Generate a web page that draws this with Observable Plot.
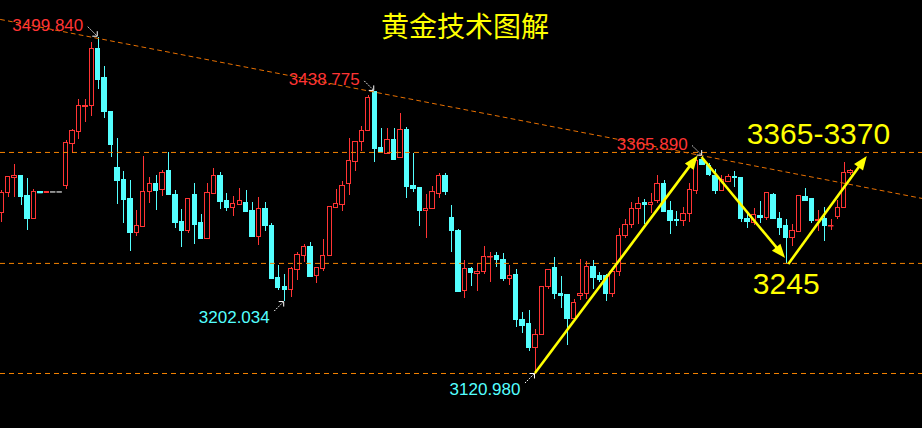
<!DOCTYPE html>
<html><head><meta charset="utf-8">
<script src="https://cdn.jsdelivr.net/npm/d3@7"></script>
<script src="https://cdn.jsdelivr.net/npm/@observablehq/plot@0.6"></script>
<style>
html,body{margin:0;padding:0;background:#000;overflow:hidden;}
#chart svg{display:block;}
</style></head><body><div id="chart"></div>
<script>
// ---- data (gold price, candles in time order) ----
const opens = [
3301.6,3324,3341,3344,3320.4,3294.8,3325.5,3324.8,3325.5,3325.5,
3332,3380,3393,3421,3422,3487,3454,3416,3353,3338.4,
3317,3279.5,3285.8,3325,3335,3327.5,3348.6,3322.6,3291.2,3281.3,
3321.5,3290,3272.3,3323.2,3343,3314.8,3307.7,3311,3312.5,3303.5,
3274.5,3306.5,3287.7,3229,3218,3214.8,3237.8,3253,3264,3230.6,
3238.2,3253,3307.5,3310.6,3334,3359,3381.8,3394,3438,3374.5,
3368.3,3384,3364,3395.5,3331.7,3329.4,3304,3306,3323.2,3344,
3296.7,3282,3213.7,3238.2,3233,3235,3251.7,3252.8,3248.3,3227.2,
3231.4,3181.8,3177,3150,3164.6,3218.2,3239.3,3210.8,3209,3182.2,
3208.5,3210.8,3241.5,3231,3230.3,3210.8,3235.6,3275.7,3288.3,3306.3,
3313,3311,3315,3334,3303.5,3294,3293,3301,3326.8,3362,
3355,3343,3327,3336.5,3342,3340.7,3294.8,3291,3298.7,3296,
3322.6,3295.3,3287.7,3273.4,3280.6,3320,3317,3293,3294.5,3287,
3297.5,3307.7,3346.6];
const highs = [
3327,3343,3356.4,3344.5,3340.7,3328,3325.5,3325.5,3325.5,3325.5,
3384,3396,3430,3430,3493.5,3499.84,3467,3416,3385.7,3348,
3338.4,3304.6,3365.5,3342,3344,3349.7,3369.6,3327,3305.7,3318,
3335,3300,3335,3352,3347.4,3324,3320.4,3329.4,3327,3313.6,
3319,3313.6,3290.3,3242.7,3232.5,3240,3257.3,3266.3,3268.6,3240.4,
3272,3308.3,3328,3337.6,3385.5,3382.3,3399,3434.5,3438.775,3397,
3397,3397,3413.7,3398,3369,3329.4,3322.6,3331.7,3345.8,3346.3,
3310.3,3283,3248.6,3240,3245,3264,3257.3,3257,3256,3242.3,
3238.2,3189.7,3192,3170.2,3219,3238.2,3251.3,3230.3,3210,3204.4,
3249.4,3247.5,3248.3,3234.8,3232,3238.5,3284,3294,3313.5,3319,
3316.5,3323.5,3344,3338.4,3314.8,3304,3308.3,3335.4,3364,3365.89,
3358,3351,3344,3345,3348,3341,3301.6,3306.5,3314.8,3325,
3323.4,3302.7,3294.5,3288.8,3321.5,3329.4,3318.5,3304.6,3308.3,3294.5,
3316,3358.7,3351];
const lows = [
3291.4,3319.6,3319.6,3310.3,3282,3294,3324.8,3324.8,3325.5,3325.5,
3328,3368.5,3385,3404,3410.5,3441,3408,3364.7,3311.4,3290.3,
3258.8,3275.3,3285,3313,3304.6,3320.4,3321,3284.7,3263.3,3279,
3266.5,3272,3272,3322.8,3306.2,3303.8,3298,3310.5,3302,3274,
3265.5,3281.3,3227,3214.5,3202.034,3207,3225.8,3246.4,3229,3222,
3236.2,3252.5,3307,3303.8,3321.5,3349,3371,3393.5,3359,3369.5,
3368,3361.5,3363.5,3318.5,3325,3287,3273.4,3305.5,3318.5,3322,
3257.6,3212,3205.8,3219.3,3213.7,3233,3224,3240.7,3225,3220.5,
3173.2,3166.4,3146,3120.98,3164,3215.3,3204.7,3194.6,3153,3182,
3203.2,3204.4,3216,3223.5,3202.4,3207,3230.6,3273,3283.8,3288.8,
3288.8,3301,3312,3302,3277.6,3287,3287,3291.4,3322.6,3355,
3343,3322.6,3326.5,3336,3331,3291.4,3284,3287.4,3290,3293,
3294,3276,3245,3264.4,3280,3314.8,3289.6,3281,3270,3282,
3294,3307.5,3343.7];
const closes = [
3324.6,3342,3343.7,3319.6,3294.5,3325.7,3324.8,3325.5,3325.5,3325.5,
3381,3393.6,3422,3422.5,3487,3452,3415,3378,3337.3,3316,
3279,3287.4,3326,3335,3327,3347.2,3321.5,3291,3281.3,3317.8,
3288.8,3272.3,3324.3,3343,3314,3307,3311.4,3315.5,3302.7,3274.5,
3306.5,3287,3227.2,3217,3214.8,3238.2,3254,3264,3229.5,3240,
3253.6,3308,3311.4,3331.7,3360,3382,3394,3431,3373.5,3370,
3384,3362,3395.5,3331,3328.6,3303.8,3306.5,3325,3344,3325,
3281.3,3212.6,3238.2,3234,3235.6,3252.5,3252.5,3248.3,3227,3231,
3181,3175,3149.7,3164.6,3218.7,3237.8,3210.3,3208,3182.2,3200.6,
3210.8,3241.2,3229,3226.6,3210.3,3235,3276,3288.5,3306.5,3312,
3311,3313.6,3334.8,3302.7,3293,3292.6,3301,3328,3360,3355.7,
3345,3327,3339,3342,3340.7,3294.8,3292,3300,3295.6,3323.8,
3294.8,3284.7,3273.4,3281,3320.4,3315,3293,3294,3287,3287.4,
3307.7,3347,3348.6];

// horizontal support / resistance levels
const levelPrices = [3370, 3245, 3120.98];
// descending trend line through the highs (candle index, price)
const trendIdx = [-0.2, 143.2];
const trendPrice = [3519.8, 3318.1];
// marked extremes
const highLabelIdx = [15, 58, 109];
const highLabelPrice = [3499.84, 3438.775, 3365.89];
const highLabelText = ["3499.840", "3438.775", "3365.890"];
const lowLabelIdx = [44, 83];
const lowLabelPrice = [3202.034, 3120.98];
const lowLabelText = ["3202.034", "3120.980"];
// yellow projection arrows (candle index, price)
const arrowIdx1 = [83, 108.9, 122.4];
const arrowPrice1 = [3120.98, 3364.3, 3243.8];
const arrowIdx2 = [108.3, 121.9, 134.6];
const arrowPrice2 = [3366, 3250.6, 3365.5];
// target annotations
const targetText = ["3365-3370", "3245"];
const targetIdx = [127, 122];
const targetPrice = [3370, 3245];
const titleText = "黄金技术图解";

// ---- styles ----
const RED = "#ff3434", CYAN = "#54ffff", GRAY = "#b8b8b8", ORANGE = "#f58200", YELLOW = "#ffff00";
const candles = opens.map((o, i) => ({
  i, o, h: highs[i], l: lows[i], c: closes[i],
  col: closes[i] > o ? RED : closes[i] < o ? CYAN : GRAY
}));
const HW = 0.34;

const yellowArrows = (index, scales) => {
  const {x, y} = scales;
  const g = d3.create("svg:g");
  for (let k = 0; k < arrowIdx1.length; k++) {
    const x1 = x(arrowIdx1[k]), y1 = y(arrowPrice1[k]);
    const x2 = x(arrowIdx2[k]), y2 = y(arrowPrice2[k]);
    const vx = x2 - x1, vy = y2 - y1, len = Math.hypot(vx, vy);
    const ux = vx / len, uy = vy / len, nx = -uy, ny = ux;
    const L = 14, W = 5.5;
    const bx = x2 - ux * L, by = y2 - uy * L;
    g.append("line").attr("x1", x1).attr("y1", y1)
      .attr("x2", bx + ux * 2).attr("y2", by + uy * 2)
      .attr("stroke", YELLOW).attr("stroke-width", 2.6);
    g.append("polygon")
      .attr("points", `${x2},${y2} ${bx + nx * W},${by + ny * W} ${bx - nx * W},${by - ny * W}`)
      .attr("fill", YELLOW);
  }
  return g.node();
};

const pointerArrows = (index, scales) => {
  const {x, y} = scales;
  const g = d3.create("svg:g");
  const draw = (X, Y, sgn) => {
    const sx = X - 10, sy = Y + sgn * 10, ex = X - 0.5, ey = Y + sgn * 0.5;
    g.append("line").attr("x1", sx).attr("y1", sy).attr("x2", ex).attr("y2", ey)
      .attr("stroke", "white").attr("stroke-width", 1).attr("stroke-dasharray", "1.5,1.2");
    g.append("path").attr("d", `M${ex - 5},${ey} L${ex},${ey} L${ex},${ey + sgn * 5}`)
      .attr("fill", "none").attr("stroke", "white").attr("stroke-width", 1);
  };
  highLabelIdx.forEach((pi, k) => draw(x(pi), y(highLabelPrice[k]), -1));
  lowLabelIdx.forEach((pi, k) => draw(x(pi), y(lowLabelPrice[k]), 1));
  return g.node();
};

const chart = Plot.plot({
  width: 922,
  height: 428,
  margin: 0,
  style: {background: "#000"},
  x: {domain: [-0.202, 143.19], axis: null},
  y: {domain: [3059.02, 3541.17], axis: null},
  color: {type: "identity"},
  marks: [
    Plot.ruleX(candles, {x: "i", y1: "l", y2: "h", stroke: "col", strokeWidth: 1, shapeRendering: "crispEdges"}),
    Plot.rect(candles, {
      x1: d => d.i - HW, x2: d => d.i + HW,
      y1: d => Math.min(d.o, d.c), y2: d => Math.max(d.o, d.c),
      fill: d => d.c > d.o ? "#000" : d.col, stroke: "col", strokeWidth: 1, shapeRendering: "crispEdges"
    }),
    Plot.ruleY(candles.filter(d => Math.abs(d.c - d.o) < 1), {
      y: "c", x1: d => d.i - HW - 0.08, x2: d => d.i + HW + 0.08, stroke: "col", strokeWidth: 1.5
    }),
    Plot.ruleY(levelPrices, {stroke: ORANGE, strokeWidth: 1, strokeDasharray: "5,4"}),
    Plot.line(trendIdx.map((t, k) => [t, trendPrice[k]]), {x: d => d[0], y: d => d[1], stroke: "#e87000", strokeWidth: 1, strokeDasharray: "4,4"}),
    pointerArrows,
    Plot.text(highLabelText, {
      x: (d, i) => highLabelIdx[i], y: (d, i) => highLabelPrice[i], text: d => d,
      textAnchor: "end", lineAnchor: "middle", dx: -15, dy: -11.5,
      fill: RED, fontSize: 17, fontFamily: "Liberation Sans, Arial, sans-serif"
    }),
    Plot.text(lowLabelText, {
      x: (d, i) => lowLabelIdx[i], y: (d, i) => lowLabelPrice[i], text: d => d,
      textAnchor: "end", lineAnchor: "middle", dx: -15, dy: 16,
      fill: CYAN, fontSize: 17, fontFamily: "Liberation Sans, Arial, sans-serif"
    }),
    yellowArrows,
    Plot.text([targetText[0]], {
      x: () => targetIdx[0], y: () => targetPrice[0], text: d => d,
      lineAnchor: "middle", dy: -18, fill: YELLOW, fontSize: 30, fontFamily: "Liberation Sans, Arial, sans-serif"
    }),
    Plot.text([targetText[1]], {
      x: () => targetIdx[1], y: () => targetPrice[1], text: d => d,
      lineAnchor: "middle", dy: 20.5, fill: YELLOW, fontSize: 30, fontFamily: "Liberation Sans, Arial, sans-serif"
    }),
    Plot.text([titleText], {
      frameAnchor: "top", text: d => d, dx: 3.5, dy: 28, lineAnchor: "middle",
      fill: YELLOW, fontSize: 28, fontFamily: "Noto Sans CJK SC, sans-serif"
    })
  ]
});
document.getElementById("chart").appendChild(chart);
</script>
</body></html>
